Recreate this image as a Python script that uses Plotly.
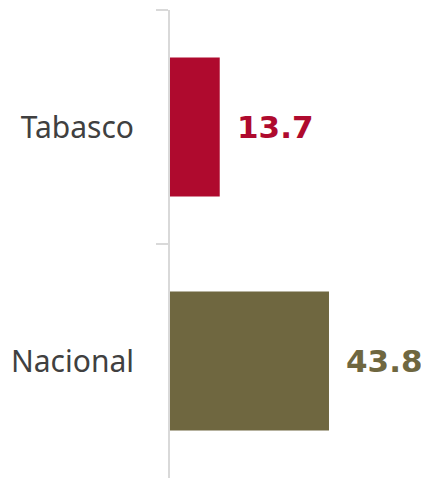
import plotly.graph_objects as go

categories = ["Tabasco", "Nacional"]
values = [13.7, 43.8]
colors = ["#AF0A2E", "#6F6740"]
value_labels = ["13.7", "43.8"]

fig = go.Figure()
fig.add_trace(go.Bar(
    y=categories, x=values, orientation="h",
    marker=dict(color=colors, line=dict(width=0)),
    hoverinfo="skip", showlegend=False,
))

for cat, val, lab, col in zip(categories, values, value_labels, colors):
    fig.add_annotation(
        x=val, y=cat, text=f"<b>{lab}</b>", showarrow=False,
        xanchor="left", yanchor="middle", xshift=15,
        font=dict(family="DejaVu Sans", size=31, color=col),
    )

fig.update_layout(
    width=421, height=472,
    margin=dict(l=162, r=0, t=2, b=2),
    paper_bgcolor="white", plot_bgcolor="white",
    bargap=0.406,
    xaxis=dict(range=[0, 71.35], showticklabels=False, showgrid=False,
               zeroline=False, showline=False, ticks=""),
    yaxis=dict(autorange="reversed", showline=True, linecolor="#D9D9D9", linewidth=2,
               ticks="outside", tickson="boundaries", ticklen=12, tickcolor="#D9D9D9",
               tickwidth=2, showgrid=False, ticklabelstandoff=28,
               tickfont=dict(family="Noto Sans", size=30, color="#404040")),
)

fig.write_html("out.html")
